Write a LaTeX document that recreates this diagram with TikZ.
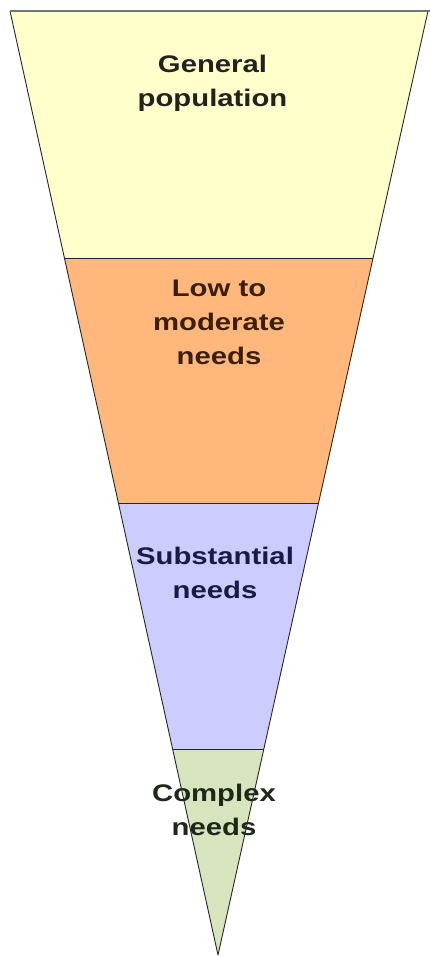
\documentclass[tikz,border=0pt]{standalone}
\usepackage{fontspec}
\newfontfamily\labelfont{Liberation Sans}[FakeStretch=1.22]
\begin{document}
\begin{tikzpicture}[x=1pt,y=-1pt,
  band/.style={draw=black!85, line width=0.9pt, line join=round},
  lbl/.style={font=\labelfont\bfseries\fontsize{24}{34}\selectfont, align=center, anchor=base, inner sep=0pt}]
\useasboundingbox (0,0) rectangle (430,957);
% corners of the funnel
\coordinate (tl) at (10,11);
\coordinate (tr) at (428,11);
\coordinate (ap) at (218,955);
\coordinate (l1) at (64.4,258);  \coordinate (r1) at (373.1,258);
\coordinate (l2) at (118.4,503); \coordinate (r2) at (318.6,503);
\coordinate (l3) at (172.6,749); \coordinate (r3) at (263.8,749);
% bands
\fill[fill={rgb,255:red,255;green,255;blue,204}] (tl) -- (tr) -- (r1) -- (l1) -- cycle;
\fill[fill={rgb,255:red,255;green,183;blue,124}] (l1) -- (r1) -- (r2) -- (l2) -- cycle;
\fill[fill={rgb,255:red,204;green,204;blue,255}] (l2) -- (r2) -- (r3) -- (l3) -- cycle;
\fill[fill={rgb,255:red,215;green,228;blue,189}] (l3) -- (r3) -- (ap) -- cycle;
% labels (anchor = baseline of last line)
\node[lbl, text={rgb,255:red,34;green,34;blue,30}] (gen) at (212.5,107) {General\\population};
\node[lbl, text={rgb,255:red,58;green,31;blue,12}] (low) at (219,364) {Low to\\moderate\\needs};
\node[lbl, text={rgb,255:red,26;green,26;blue,70}] (sub) at (215,598) {Substantial\\needs};
\node[lbl, text={rgb,255:red,30;green,40;blue,25}] (com) at (214,835) {Complex\\needs};
% outlines (drawn over the text, as in the reference)
\draw[band] (tl) -- (ap) -- (tr);
\draw[band] (l1) -- (r1);
\draw[band] (l2) -- (r2);
\draw[band] (l3) -- (r3);
\draw[draw=black!55, line width=2pt] (tl) -- (430,11);
\end{tikzpicture}
\end{document}
